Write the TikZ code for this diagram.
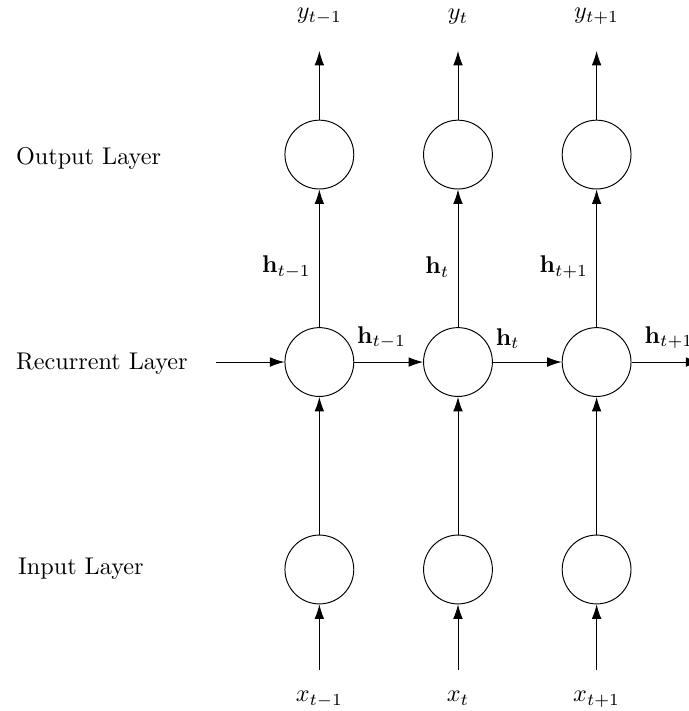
\documentclass[tikz,border=0pt]{standalone}
\usetikzlibrary{arrows.meta, positioning}

\begin{document}
\begin{tikzpicture}[
        neuron/.style={draw=black, circle, minimum size=1cm, inner sep=0pt}, % Neurona: círculo vacío
        layer_label/.style={anchor=west},
        arrow_style/.style={-{Latex[length=6pt, width=4pt]}, draw=black},
        state_label/.style={anchor=south west, inner sep=1pt, yshift=0.15cm}
    ]
        % Marco fijo de la figura (la flecha de salida queda cortada a la derecha)
        \useasboundingbox (-6.64,-5.07) rectangle (3.36,5.26);

        % --- Capa recurrente ---
        \node[neuron] (h1) at (-2,0) {};
        \node[neuron, right=1cm of h1] (h2) {};
        \node[neuron, right=1cm of h2] (h3) {};

        % --- Capas de entrada y de salida ---
        \node[neuron, below=2cm of h1] (x1) {};
        \node[neuron, below=2cm of h2] (x2) {};
        \node[neuron, below=2cm of h3] (x3) {};
        \node[neuron, above=2cm of h1] (y1) {};
        \node[neuron, above=2cm of h2] (y2) {};
        \node[neuron, above=2cm of h3] (y3) {};

        % --- Nombres de las capas ---
        \node[layer_label] (out_name) at (-6.53,2.96) {Output Layer};
        \node[layer_label] (rec_name) at (-6.53,-0.03) {Recurrent Layer};
        \node[layer_label] (in_name) at (-6.50,-3) {Input Layer};

        % --- Extremos libres de las flechas ---
        \coordinate[below=0.95cm of x1] (x1_in);
        \coordinate[below=0.95cm of x2] (x2_in);
        \coordinate[below=0.95cm of x3] (x3_in);
        \coordinate[above=1cm of y1] (y1_out);
        \coordinate[above=1cm of y2] (y2_out);
        \coordinate[above=1cm of y3] (y3_out);
        \coordinate[left=1cm of h1] (h_in);
        \coordinate[right=1cm of h3] (h_out);

        % --- Entradas x y salidas y ---
        \node[below=0.19cm of x1_in] (x1_lab) {$x_{t-1}$};
        \node[below=0.19cm of x2_in] (x2_lab) {$x_t$};
        \node[below=0.19cm of x3_in] (x3_lab) {$x_{t+1}$};
        \node[above=0.26cm of y1_out] (y1_lab) {$y_{t-1}$};
        \node[above=0.26cm of y2_out] (y2_lab) {$y_t$};
        \node[above=0.26cm of y3_out] (y3_lab) {$y_{t+1}$};

        \draw[arrow_style] (x1_in) -- (x1.south);
        \draw[arrow_style] (x2_in) -- (x2.south);
        \draw[arrow_style] (x3_in) -- (x3.south);
        \draw[arrow_style] (y1.north) -- (y1_out);
        \draw[arrow_style] (y2.north) -- (y2_out);
        \draw[arrow_style] (y3.north) -- (y3_out);

        % --- Entrada -> recurrente -> salida ---
        \draw[arrow_style] (x1.north) -- (h1.south);
        \draw[arrow_style] (x2.north) -- (h2.south);
        \draw[arrow_style] (x3.north) -- (h3.south);
        \draw[arrow_style] (h1.north) -- node[left, pos=0.435] (v1) {$\mathbf{h}_{t-1}$} (y1.south);
        \draw[arrow_style] (h2.north) -- node[left, pos=0.435] (v2) {$\mathbf{h}_t$} (y2.south);
        \draw[arrow_style] (h3.north) -- node[left, pos=0.435] (v3) {$\mathbf{h}_{t+1}$} (y3.south);

        % --- Estado oculto que pasa de un paso al siguiente ---
        \draw[arrow_style] (h_in) -- (h1.west);
        \draw[arrow_style] (h1.east) -- (h2.west);
        \draw[arrow_style] (h2.east) -- (h3.west);
        \draw[arrow_style] (h3.east) -- (h_out);

        \node[state_label] (s1) at (h1.east) {$\mathbf{h}_{t-1}$};
        \node[state_label] (s2) at (h2.east) {$\mathbf{h}_t$};
        \node[state_label, xshift=0.15cm] (s3) at (h3.east) {$\mathbf{h}_{t+1}$};
\end{tikzpicture}
\end{document}
